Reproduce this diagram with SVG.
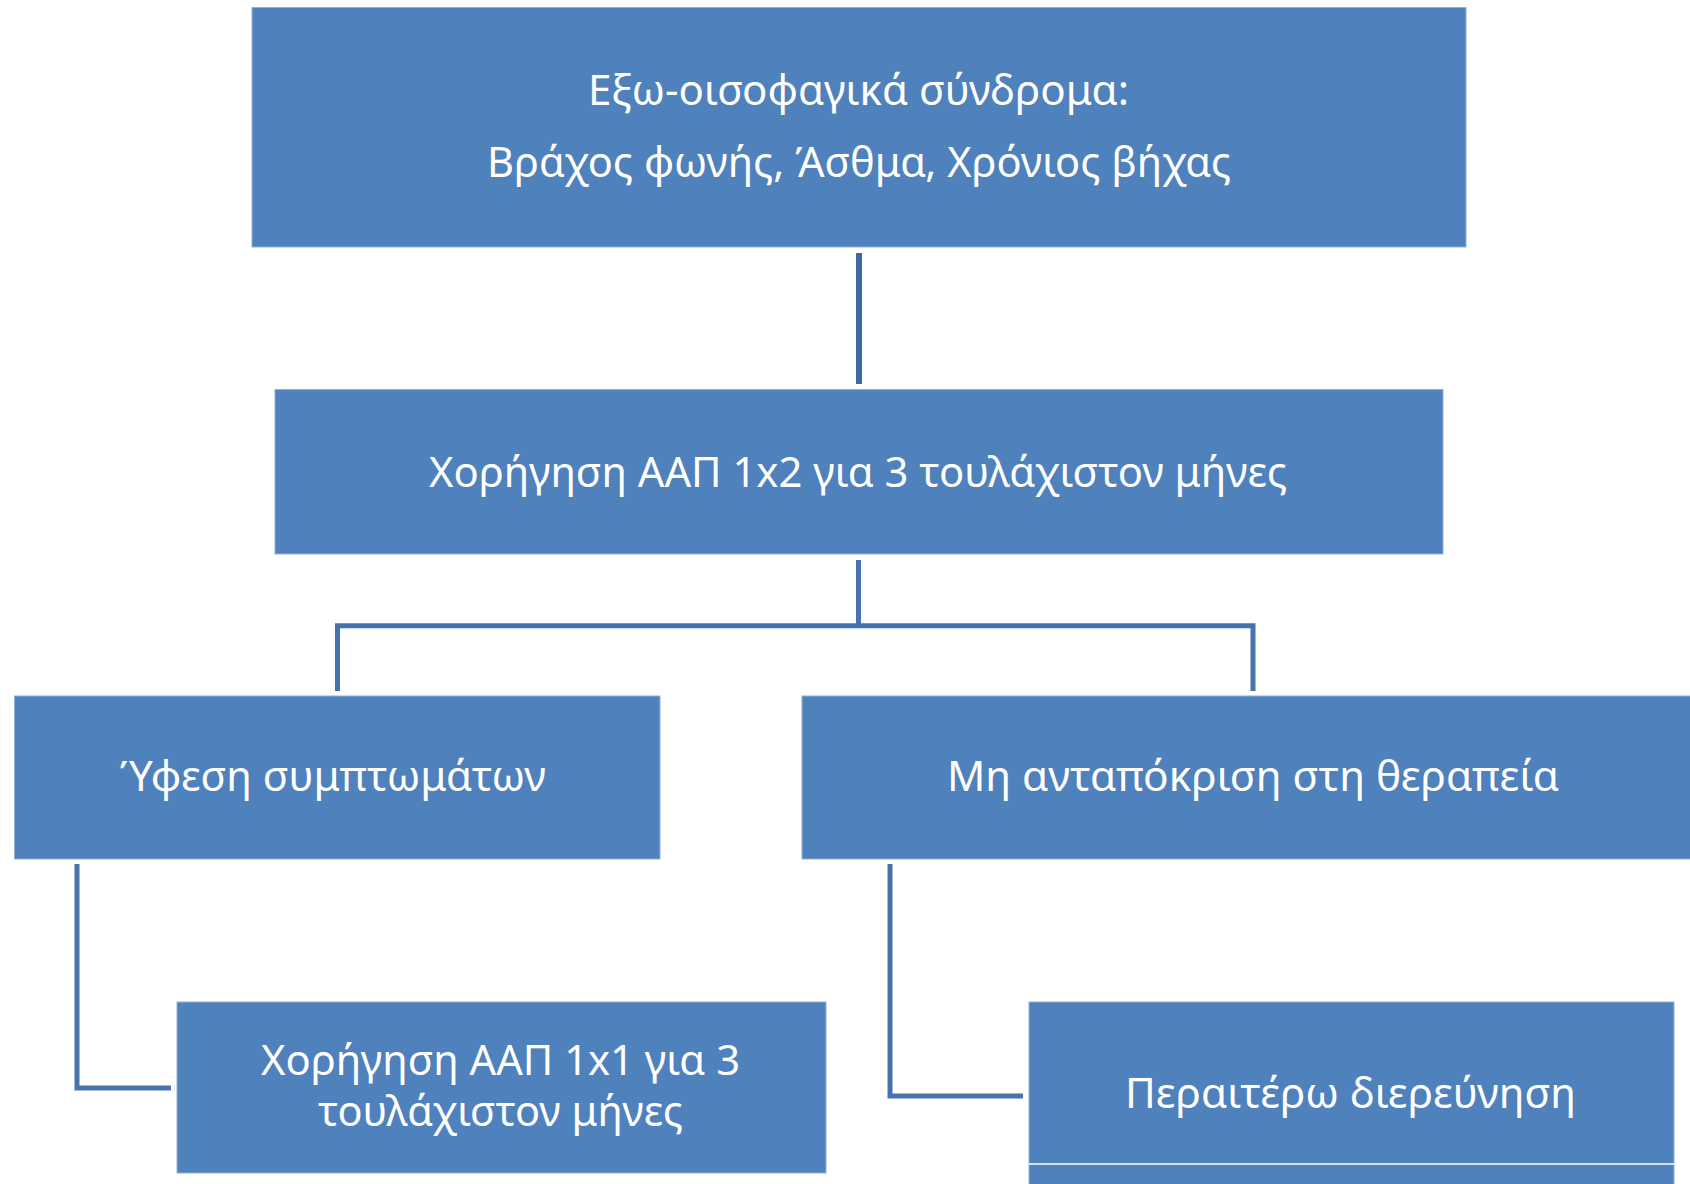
<svg xmlns="http://www.w3.org/2000/svg" width="1690" height="1184" viewBox="0 0 1690 1184">
<style>
.box{fill:#4F81BD;stroke:#8FB0D9;stroke-width:1}
.t{fill:#FFFFFF;font-family:"Noto Sans","Open Sans","DejaVu Sans",sans-serif;font-size:41px;text-anchor:middle}
.c{fill:none;stroke:#4673AE;stroke-width:5;stroke-linejoin:miter;stroke-linecap:butt}
.c0{fill:none;stroke:#3F69A3;stroke-width:6}
</style>
<rect width="1690" height="1184" fill="#FFFFFF"/>
<g id="connectors">
<path class="c0" d="M859 253 V384"/>
<path class="c" d="M858.5 560 V626 M337.5 691 V625.8 H1253 V691"/>
<path class="c" d="M77 864 V1088 H171"/>
<path class="c" d="M890 864 V1096 H1023"/>
</g>
<g id="n1">
<rect class="box" x="252" y="7.5" width="1214" height="239.5"/>
<text class="t" x="858.5" y="105" textLength="541" lengthAdjust="spacingAndGlyphs">Εξω-οισοφαγικά σύνδρομα:</text>
<text class="t" x="859" y="177" textLength="744" lengthAdjust="spacingAndGlyphs">Βράχος φωνής, Άσθμα, Χρόνιος βήχας</text>
</g>
<g id="n2">
<rect class="box" x="275" y="389.5" width="1168" height="164.5"/>
<text class="t" x="858" y="487" textLength="858" lengthAdjust="spacingAndGlyphs">Χορήγηση ΑΑΠ 1x2 για 3 τουλάχιστον μήνες</text>
</g>
<g id="n3">
<rect class="box" x="14.5" y="696" width="645.5" height="163"/>
<text class="t" x="333" y="791" textLength="426" lengthAdjust="spacingAndGlyphs">Ύφεση συμπτωμάτων</text>
</g>
<g id="n4">
<rect class="box" x="802" y="696" width="900" height="163"/>
<text class="t" x="1253" y="791" textLength="612" lengthAdjust="spacingAndGlyphs">Μη ανταπόκριση στη θεραπεία</text>
</g>
<g id="n5">
<rect class="box" x="177" y="1002" width="649" height="171"/>
<text class="t" x="500.5" y="1075" textLength="479" lengthAdjust="spacingAndGlyphs">Χορήγηση ΑΑΠ 1x1 για 3</text>
<text class="t" x="500.5" y="1126" textLength="365" lengthAdjust="spacingAndGlyphs">τουλάχιστον μήνες</text>
</g>
<g id="n6">
<rect class="box" x="1029" y="1002" width="645" height="190"/>
<line x1="1029" y1="1164" x2="1674" y2="1164" stroke="#FFFFFF" stroke-width="1.5"/>
<text class="t" x="1350.5" y="1108" textLength="451" lengthAdjust="spacingAndGlyphs">Περαιτέρω διερεύνηση</text>
</g>
</svg>
